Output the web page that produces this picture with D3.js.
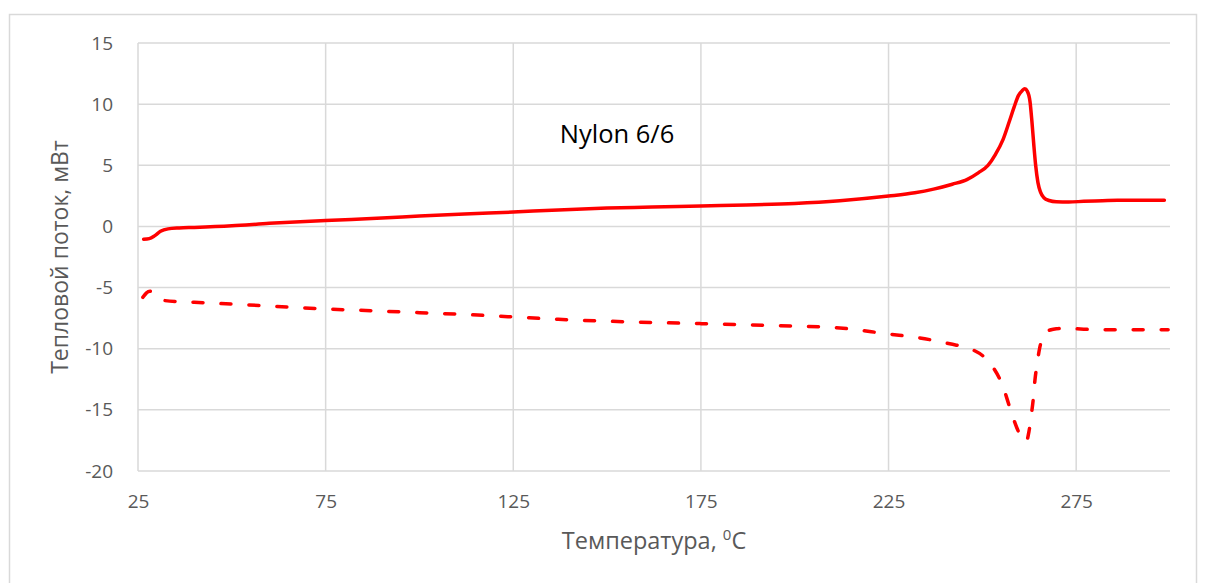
<!DOCTYPE html>
<html><head><meta charset="utf-8">
<script src="https://cdn.jsdelivr.net/npm/d3@7"></script>
<style>body{margin:0;background:#fff}svg{display:block}</style>
</head><body>
<svg id="c" width="1207" height="583"></svg>
<script>
// heating curve (solid)
const heatT = [26.5,28,29.5,31,33,36,40,50,60,75,90,100,112,125,137,150,162,175,187,200,212,225,232,237,242,246,249,251.5,253.5,255.5,257.2,258.5,259.6,260.6,261.3,262,262.7,263.2,263.7,264.2,264.8,265.5,266.4,267.8,269.7,273,277,282,286,292,298.5];
const heatQ = [-1.05,-1.0,-0.75,-0.4,-0.2,-0.12,-0.08,0.05,0.25,0.48,0.68,0.85,1.02,1.18,1.35,1.5,1.58,1.68,1.75,1.88,2.1,2.48,2.75,3.05,3.45,3.85,4.4,5.0,5.9,7.1,8.6,9.8,10.7,11.1,11.25,11.05,10.2,8.6,6.7,5.0,3.6,2.8,2.35,2.12,2.02,2.0,2.05,2.1,2.14,2.14,2.14];
// cooling curve (dashed)
const coolT = [26.3,27.2,28.2,29.5,31.7,40,50,65.5,75,88,100,112,125,137,150,162,175,187,200,212,225,233,241.3,247.5,250.2,252.8,255.5,257.3,259.1,260.5,261.7,262.4,263.1,263.6,264.0,264.6,265.3,266.2,267.1,268.3,269.7,272,275,281.3,290,299.5];
const coolQ = [-5.8,-5.45,-5.3,-5.7,-6.05,-6.2,-6.35,-6.6,-6.75,-6.9,-7.05,-7.2,-7.4,-7.6,-7.75,-7.85,-7.95,-8.05,-8.15,-8.3,-8.8,-9.1,-9.6,-10.1,-10.6,-11.5,-13.1,-14.8,-16.4,-17.3,-17.6,-16.8,-15.3,-14.0,-12.6,-11.2,-9.9,-9.0,-8.6,-8.45,-8.37,-8.33,-8.37,-8.45,-8.45,-8.45];
const xTicks = [25,75,125,175,225,275];
const yTicks = [15,10,5,0,-5,-10,-15,-20];
const xTitle = "Температура, ";
const yTitle = "Тепловой поток, мВт";
const label = "Nylon 6/6";

const svg = d3.select("#c");
const L = 138, R = 1170, T = 43, B = 471;
const x = d3.scaleLinear().domain([25,300]).range([L,R]);
const y = d3.scaleLinear().domain([-20,15]).range([B,T]);
const grid = "#d9d9d9", txt = "#595959", font = "'Open Sans', sans-serif";

// chart border
svg.append("rect").attr("x",9.5).attr("y",14.5).attr("width",1187).attr("height",600)
  .attr("fill","none").attr("stroke",grid).attr("stroke-width",1.5);

// gridlines
svg.append("g").selectAll("line").data(yTicks).join("line")
  .attr("x1",L).attr("x2",R).attr("y1",d=>y(d)).attr("y2",d=>y(d))
  .attr("stroke",grid).attr("stroke-width",1.5);
svg.append("g").selectAll("line").data(xTicks).join("line")
  .attr("x1",d=>x(d)).attr("x2",d=>x(d)).attr("y1",T).attr("y2",B)
  .attr("stroke",grid).attr("stroke-width",1.5);

// axes labels via d3 axes
const fmt = d => String(d);
const ya = svg.append("g").attr("transform",`translate(${L},0)`)
  .call(d3.axisLeft(y).tickValues(yTicks).tickSize(0).tickPadding(25).tickFormat(fmt));
ya.select(".domain").remove();
ya.selectAll("text").attr("fill",txt).style("font-family",font).style("font-size","19px");
const xa = svg.append("g").attr("transform",`translate(0,${B})`)
  .call(d3.axisBottom(x).tickValues(xTicks).tickSize(0).tickPadding(24).tickFormat(fmt));
xa.select(".domain").remove();
xa.selectAll("text").attr("fill",txt).style("font-family",font).style("font-size","19px");

// curves
const line = d3.line().x(d=>x(d[0])).y(d=>y(d[1])).curve(d3.curveMonotoneX);
svg.append("path").datum(heatT.map((t,i)=>[t,heatQ[i]])).attr("d",line)
  .attr("fill","none").attr("stroke","#ff0000").attr("stroke-width",3.5)
  .attr("stroke-linejoin","round").attr("stroke-linecap","round");
svg.append("path").datum(coolT.map((t,i)=>[t,coolQ[i]])).attr("d",line)
  .attr("fill","none").attr("stroke","#ff0000").attr("stroke-width",3.5)
  .attr("stroke-dasharray","10 18").attr("stroke-linecap","round");

// titles
const xt = svg.append("text").attr("x",(L+R)/2).attr("y",549).attr("text-anchor","middle")
  .attr("fill",txt).style("font-family",font).style("font-size","23.5px").text(xTitle);
xt.append("tspan").attr("dy",-9).style("font-size","15px").text("0");
xt.append("tspan").attr("dy",9).text("C");
svg.append("text").attr("transform",`translate(68,${(T+B)/2}) rotate(-90)`).attr("text-anchor","middle")
  .attr("fill",txt).style("font-family",font).style("font-size","23px").text(yTitle);
svg.append("text").attr("x",617).attr("y",143).attr("text-anchor","middle")
  .attr("fill","#000").style("font-family",font).style("font-size","25.5px").text(label);
</script>
</body></html>
